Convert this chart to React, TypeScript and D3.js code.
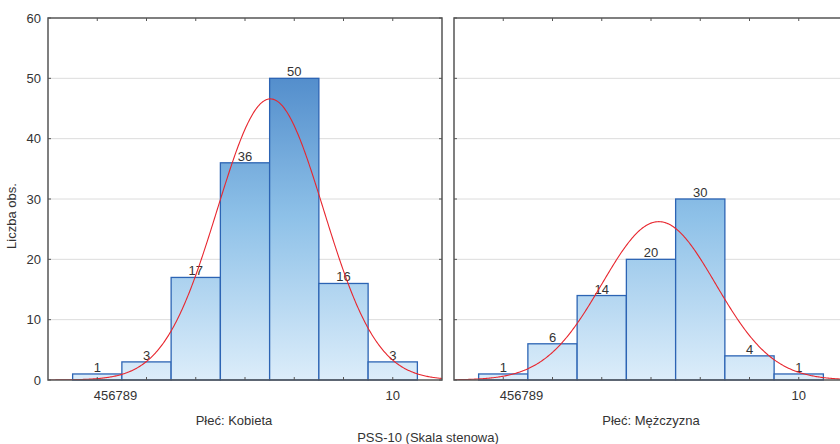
import React from "react";
import * as d3 from "d3";

// Sten scores (bins) and counts per group
const stens = [4, 5, 6, 7, 8, 9, 10];
const kobietaCounts = [1, 3, 17, 36, 50, 16, 3];
const mezczyznaCounts = [1, 6, 14, 20, 30, 4, 1];
const panelTitles = ["Płeć: Kobieta", "Płeć: Mężczyzna"];
const yTicks = [0, 10, 20, 30, 40, 50, 60];
const xTickLabels = [
  { text: "456789", at: 4.37 },
  { text: "10", at: 10 },
];

const W = 840;
const H = 444;
const top = 18;
const bottom = 380;
const panelWidth = 394;
const panelLefts = [48, 454];
const font = "Arial, 'Liberation Sans', Helvetica, sans-serif";

function normalCurve(counts: number[]) {
  const n = d3.sum(counts);
  const mean = d3.sum(stens, (s, i) => s * counts[i]) / n;
  const ss = d3.sum(stens, (s, i) => (s - mean) ** 2 * counts[i]);
  const sd = Math.sqrt(ss / (n - 1));
  return (x: number) =>
    (n / (sd * Math.sqrt(2 * Math.PI))) * Math.exp(-((x - mean) ** 2) / (2 * sd * sd));
}

function Panel({ idx, counts }: { idx: number; counts: number[] }) {
  const left = panelLefts[idx];
  const x = d3.scaleLinear().domain([3, 11]).range([left, left + panelWidth]);
  const y = d3.scaleLinear().domain([0, 60]).range([bottom, top]);
  const f = normalCurve(counts);
  const pts = d3.range(3, 11.0001, 0.02).map((v) => [v, f(v)] as [number, number]);
  const line = d3
    .line<[number, number]>()
    .x((d) => x(d[0]))
    .y((d) => y(d[1]))
    .curve(d3.curveLinear);
  const clipId = `clip${idx}`;
  const right = x(11);
  return (
    <g>
      <defs>
        <clipPath id={clipId}>
          <rect x={left} y={top} width={panelWidth} height={bottom - top} />
        </clipPath>
      </defs>
      {/* gridlines */}
      {yTicks
        .filter((t) => t > 0 && t < 60)
        .map((t) => (
          <line key={t} x1={left} x2={right} y1={y(t)} y2={y(t)} stroke="#dcdcdc" strokeWidth={1} />
        ))}
      {/* bars */}
      {stens.map((s, i) => (
        <rect
          key={s}
          x={x(s - 0.5)}
          y={y(counts[i])}
          width={x(s + 0.5) - x(s - 0.5)}
          height={y(0) - y(counts[i])}
          fill="url(#barGrad)"
          stroke="#2c64b4"
          strokeWidth={1.3}
        />
      ))}
      {/* value labels */}
      {stens.map((s, i) => (
        <text
          key={s}
          x={x(s)}
          y={y(counts[i]) - 2}
          textAnchor="middle"
          fontSize={13}
          fill="#333"
          fontFamily={font}
        >
          {counts[i]}
        </text>
      ))}
      {/* fitted normal curve */}
      <path d={line(pts) || ""} fill="none" stroke="#e8262e" strokeWidth={1.1} clipPath={`url(#${clipId})`} />
      {/* frame */}
      <path
        d={`M${left},${bottom} L${left},${top} L${right},${top} L${right},${bottom} Z`}
        fill="none"
        stroke="#555"
        strokeWidth={1.5}
      />
      {/* x ticks (inside, top and bottom) */}
      {stens.map((s) => (
        <g key={s}>
          <line x1={x(s)} x2={x(s)} y1={bottom} y2={bottom - 3} stroke="#555" strokeWidth={1} />
          <line x1={x(s)} x2={x(s)} y1={top} y2={top + 3} stroke="#555" strokeWidth={1} />
        </g>
      ))}
      {/* y ticks (inside, left and right) */}
      {yTicks.map((t) => (
        <g key={t}>
          <line x1={left} x2={left + 3} y1={y(t)} y2={y(t)} stroke="#555" strokeWidth={1} />
          <line x1={right} x2={right - 3} y1={y(t)} y2={y(t)} stroke="#555" strokeWidth={1} />
        </g>
      ))}
      {/* y tick labels on the first panel only */}
      {idx === 0 &&
        yTicks.map((t) => (
          <text
            key={t}
            x={left - 7}
            y={y(t) + 4.5}
            textAnchor="end"
            fontSize={13}
            fill="#333"
            fontFamily={font}
          >
            {t}
          </text>
        ))}
      {xTickLabels.map((l) => (
        <text
          key={l.text}
          x={x(l.at)}
          y={400}
          textAnchor="middle"
          fontSize={13}
          fill="#333"
          fontFamily={font}
        >
          {l.text}
        </text>
      ))}
      <text
        x={idx === 0 ? 234 : x(7)}
        y={425}
        textAnchor="middle"
        fontSize={13}
        fill="#333"
        fontFamily={font}
      >
        {panelTitles[idx]}
      </text>
    </g>
  );
}

export default function App() {
  const y = d3.scaleLinear().domain([0, 60]).range([bottom, top]);
  return (
    <svg
      width={W}
      height={H}
      style={{ position: "absolute", left: 0, top: 0, background: "#fff" }}
    >
      <defs>
        <linearGradient id="barGrad" gradientUnits="userSpaceOnUse" x1={0} x2={0} y1={y(0)} y2={y(60)}>
          <stop offset="0%" stopColor="#dcedfa" />
          <stop offset="45%" stopColor="#8ec1e8" />
          <stop offset="100%" stopColor="#3a78c0" />
        </linearGradient>
      </defs>
      <rect x={0} y={0} width={W} height={H} fill="#fff" />
      <Panel idx={0} counts={kobietaCounts} />
      <Panel idx={1} counts={mezczyznaCounts} />
      <text
        transform={`translate(16,216) rotate(-90)`}
        textAnchor="middle"
        fontSize={13}
        fill="#333"
        fontFamily={font}
      >
        Liczba obs.
      </text>
      <text x={428} y={442} textAnchor="middle" fontSize={13} fill="#333" fontFamily={font}>
        PSS-10 (Skala stenowa)
      </text>
    </svg>
  );
}
